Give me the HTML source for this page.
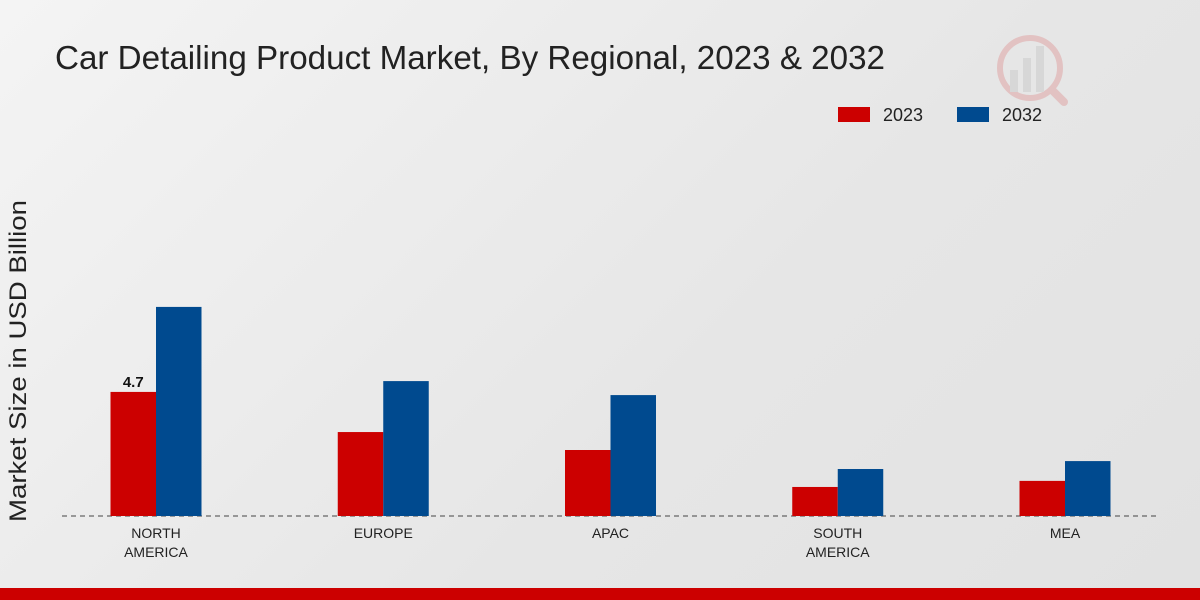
<!DOCTYPE html>
<html><head><meta charset="utf-8"><style>
html,body{margin:0;padding:0;width:1200px;height:600px;overflow:hidden;}
body{background:linear-gradient(135deg,#f4f4f4 0%,#e6e6e6 60%,#e2e2e2 100%);font-family:"Liberation Sans",sans-serif;}
</style></head><body>
<svg id="chart" width="1200" height="600" style="position:absolute;left:0;top:0">
<text x="55" y="69" font-size="33" fill="#222" textLength="830" lengthAdjust="spacingAndGlyphs">Car Detailing Product Market, By Regional, 2023 &amp; 2032</text>
<g>
<rect x="838" y="107" width="32" height="15" fill="#cc0000"/>
<text x="883" y="121" font-size="18" fill="#222">2023</text>
<rect x="957" y="107" width="32" height="15" fill="#004a8f"/>
<text x="1002" y="121" font-size="18" fill="#222">2032</text>
</g>
<text transform="translate(26,361) rotate(-90)" text-anchor="middle" font-size="24" fill="#222" textLength="322" lengthAdjust="spacingAndGlyphs">Market Size in USD Billion</text>
<line x1="62" y1="516" x2="1160" y2="516" stroke="#444" stroke-dasharray="5,4"/>
<g id="bars"></g>
<rect x="0" y="588" width="1200" height="12" fill="#cc0000"/>
<g opacity="0.15">
<circle cx="1030" cy="68" r="30" fill="none" stroke="#c00" stroke-width="6"/>
<rect x="1010" y="70" width="8" height="22" fill="#888"/><rect x="1023" y="58" width="8" height="34" fill="#888"/><rect x="1036" y="46" width="8" height="46" fill="#888"/>
<line x1="1052" y1="90" x2="1064" y2="102" stroke="#c00" stroke-width="8" stroke-linecap="round"/>
</g>
</svg>
<script>
const categories=["NORTH|AMERICA","EUROPE","APAC","SOUTH|AMERICA","MEA"];
const values2023=[4.7,3.18,2.5,1.1,1.33];
const values2032=[7.92,5.11,4.58,1.78,2.08];
const valueLabels=["4.7","","","",""];
const NS="http://www.w3.org/2000/svg";
const g=document.getElementById('bars');
const baseY=516,pxPer=26.4,x0=156,step=227.25,bw=45.5;
const yScale=v=>baseY-v*pxPer;
const xCenter=i=>x0+i*step;
function mk(tag,attrs){const e=document.createElementNS(NS,tag);for(const k in attrs)e.setAttribute(k,attrs[k]);g.appendChild(e);return e;}
categories.forEach((c,i)=>{
  const cx=xCenter(i);
  const r=mk('rect',{x:cx-bw,y:yScale(values2023[i]),width:bw,height:baseY-yScale(values2023[i]),fill:'#cc0000'});
  
  
  const b=mk('rect',{x:cx,y:yScale(values2032[i]),width:bw,height:baseY-yScale(values2032[i]),fill:'#004a8f'});
  
  
  if(valueLabels[i]){
    const t=mk('text',{x:cx-bw/2,y:yScale(values2023[i])-5,'text-anchor':'middle','font-size':'15','font-weight':'bold',fill:'#111'});
    t.textContent=valueLabels[i];
    
    
  }
  c.split('|').forEach((line,j)=>{
    const t=mk('text',{x:cx,y:538+j*19,'text-anchor':'middle','font-size':'14',fill:'#222'});
    t.textContent=line;
    
    
  });
});
</script>
</body></html>
